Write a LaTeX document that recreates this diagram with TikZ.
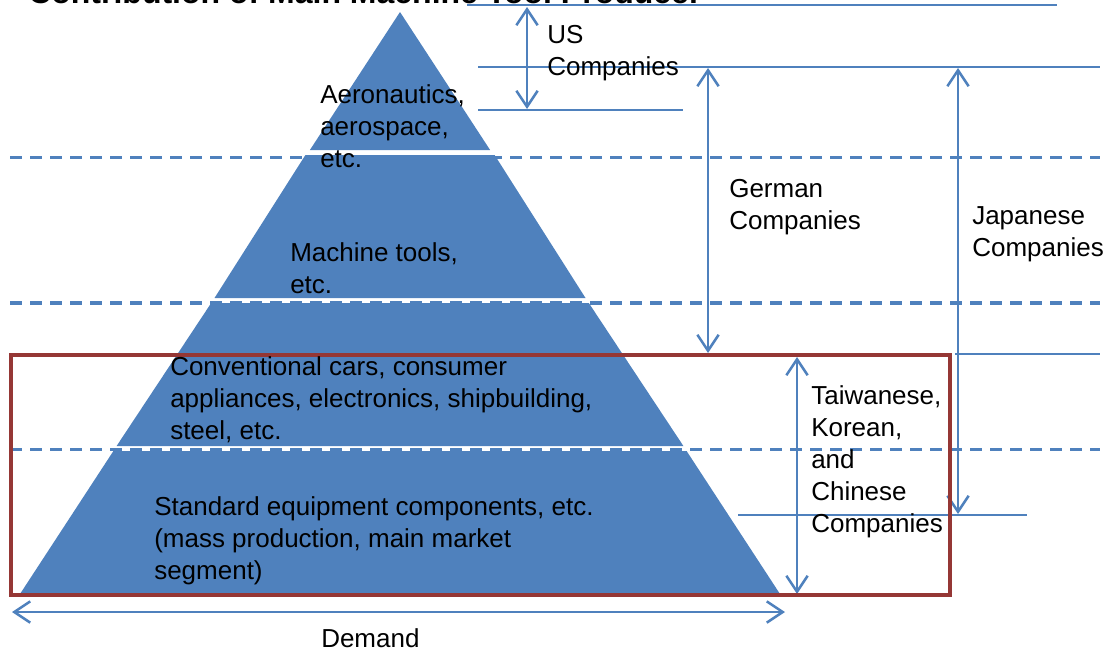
\documentclass[tikz,border=0pt]{standalone}
\usepackage{fontspec}
\setmainfont{Liberation Sans}
\usetikzlibrary{arrows.meta}
\definecolor{pblue}{HTML}{4F81BD}
\definecolor{pred}{HTML}{953735}
\begin{document}
\begin{tikzpicture}[x=0.75pt,y=-0.75pt,
  seg/.style={fill=pblue,draw=none},
  guide/.style={draw=pblue,line width=1.5pt},
  level/.style={draw=pblue,line width=2.4pt,dash pattern=on 9pt off 6pt},
  dim/.style={draw=pblue,line width=1.9pt,{Straight Barb[length=12pt,width=16pt]}-{Straight Barb[length=12pt,width=16pt]}},
  redbox/.style={draw=pred,line width=3pt},
  lbl/.style={anchor=base west,inner sep=0pt,align=left,font=\fontsize{19.5}{24}\selectfont},
]
\useasboundingbox (0,0) rectangle (1109,651);
% title (cut off at top)
\node[anchor=base west,inner sep=0pt,font=\bfseries\fontsize{24}{28}\selectfont] (title) at (28,3.5) {Contribution of Main Machine Tool Producer};
% level dashed lines
\draw[level] (10,157.5) -- (1100,157.5);
\draw[level] (10,303) -- (1100,303);
\draw[level] (10,449.5) -- (1100,449.5);
% pyramid segments
\fill[seg] (400,12) -- (490.1,150) -- (309.9,150) -- cycle;
\fill[seg] (305.4,155) -- (494.6,155) -- (585.5,298) -- (214.5,298) -- cycle;
\fill[seg] (211.2,303) -- (588.8,303) -- (683.4,446) -- (116.6,446) -- cycle;
\fill[seg] (113.4,451) -- (686.6,451) -- (780,594) -- (20,594) -- cycle;
% guide lines
\draw[guide] (467,5) -- (1057,5);
\draw[guide] (478,67) -- (1100,67);
\draw[guide] (478,110) -- (683,110);
\draw[guide] (955,354) -- (1100,354);
\draw[guide] (738,515) -- (1027,515);
\draw[guide] (787,596) -- (952,596);
% arrow ends
\coordinate (usT) at (527,7);
\coordinate (usB) at (527,109);
\coordinate (geT) at (708,68);
\coordinate (geB) at (708,353);
\coordinate (jpT) at (958,68);
\coordinate (jpB) at (958,514);
\coordinate (asT) at (797,357);
\coordinate (asB) at (797,594);
\coordinate (dmL) at (12,612);
\coordinate (dmR) at (785,612);
\draw[dim] (usT) -- (usB);
\draw[dim] (geT) -- (geB);
\draw[dim] (jpT) -- (jpB);
\draw[dim] (asT) -- (asB);
\draw[dim] (dmL) -- (dmR);
% red box
\draw[redbox] (11,355) rectangle (950,595);
% labels (anchored at the baseline of their last line)
\node[lbl] (us) at (547,75) {US\\Companies};
\node[lbl] (aero) at (320,167) {Aeronautics,\\aerospace,\\etc.};
\node[lbl] (ger) at (729,229) {German\\Companies};
\node[lbl] (jap) at (972,256) {Japanese\\Companies};
\node[lbl] (mach) at (290,293) {Machine tools,\\etc.};
\node[lbl] (conv) at (170,439) {Conventional cars, consumer\\appliances, electronics, shipbuilding,\\steel, etc.};
\node[lbl] (std) at (154,579) {Standard equipment components, etc.\\(mass production, main market\\segment)};
\node[lbl] (asia) at (811,532) {Taiwanese,\\Korean,\\and\\Chinese\\Companies};
\node[lbl] (dem) at (321,647) {Demand};
\end{tikzpicture}
\end{document}
